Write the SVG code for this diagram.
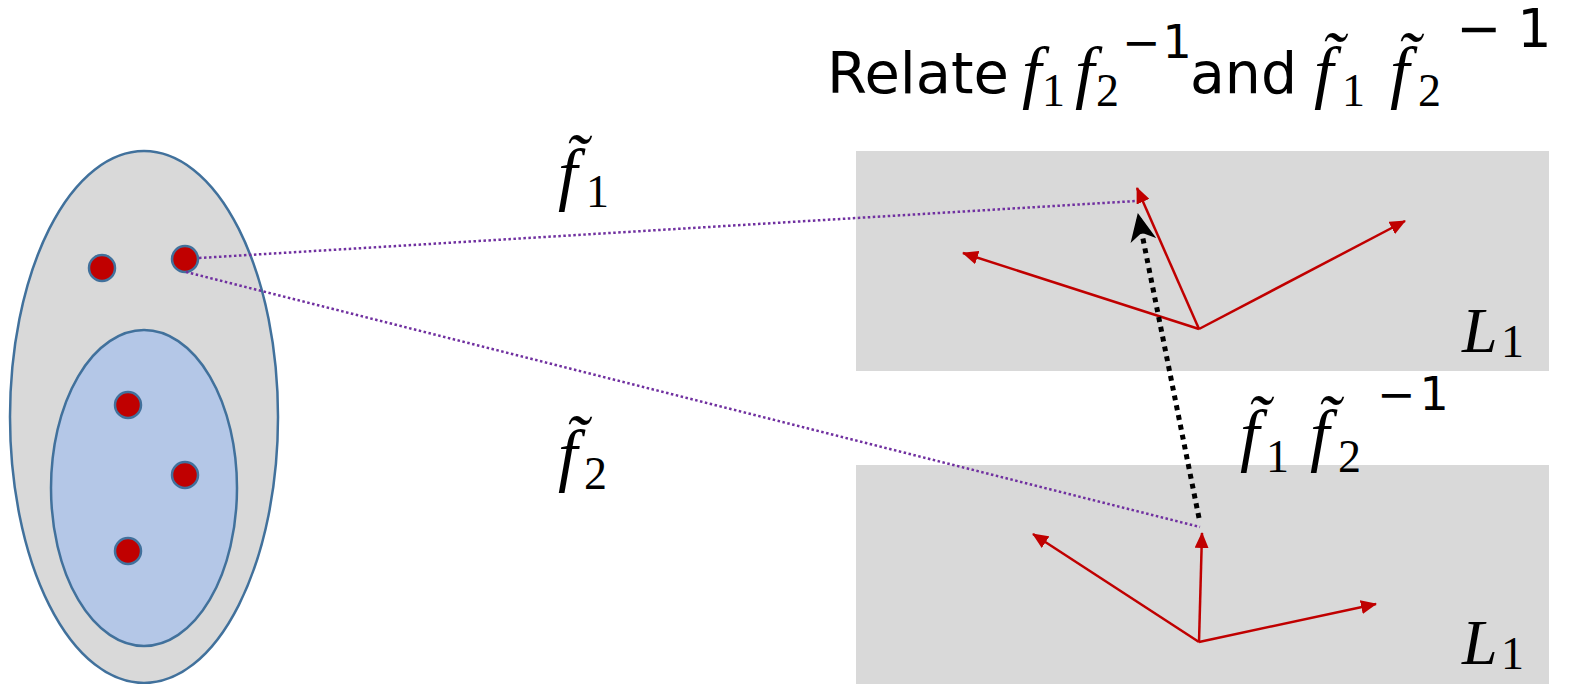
<svg xmlns="http://www.w3.org/2000/svg" width="1577" height="684" viewBox="0 0 1577 684">
<style>
.mi{font-family:"Liberation Serif",serif;font-style:italic;font-size:70px;fill:#000}
.ml{font-family:"Liberation Serif",serif;font-style:italic;font-size:64px;fill:#000}
.sub{font-family:"Liberation Serif",serif;font-size:46px;fill:#000}
.sup{font-family:"DejaVu Sans",sans-serif;font-size:46px;fill:#000}
.txt{font-family:"DejaVu Sans",sans-serif;font-size:57px;fill:#000}
.plane{fill:#D9D9D9}
.vec{stroke:#C00000;stroke-width:2.5;fill:none;marker-end:url(#redhead)}
.map{stroke:#7030A0;stroke-width:2.5;stroke-dasharray:2.5 2.5;fill:none}
.dot{fill:#C00000;stroke:#41719C;stroke-width:2.5}
.ell{stroke:#41719C;stroke-width:2.5}
</style>
<defs>
<marker id="redhead" markerUnits="userSpaceOnUse" viewBox="0 0 16 14" markerWidth="16" markerHeight="14" refX="15" refY="7" orient="auto">
<path d="M0,0 L16,7 L0,14 z" fill="#C00000"/>
</marker>
<marker id="blackhead" markerUnits="userSpaceOnUse" viewBox="0 0 28 26" markerWidth="28" markerHeight="26" refX="27" refY="13" orient="auto">
<path d="M28,13 L0,0 L8,13 L0,26 z" fill="#000"/>
</marker>
</defs>

<g id="set">
<ellipse class="ell" cx="144" cy="417" rx="134" ry="266" fill="#D9D9D9"/>
<ellipse class="ell" cx="144" cy="488" rx="93" ry="158" fill="#B4C7E7"/>
<circle class="dot" cx="102" cy="268" r="13"/>
<circle class="dot" cx="185" cy="259" r="13"/>
<circle class="dot" cx="128" cy="405" r="13"/>
<circle class="dot" cx="185" cy="475" r="13"/>
<circle class="dot" cx="128" cy="551" r="13"/>
</g>

<g id="plane-top">
<rect class="plane" x="856" y="151" width="693" height="220"/>
<line class="vec" x1="1199" y1="329" x2="1137" y2="188"/>
<line class="vec" x1="1199" y1="329" x2="1405" y2="221"/>
<line class="vec" x1="1199" y1="329" x2="963" y2="253"/>
<text class="ml" x="1462" y="352">L</text><text class="sub" x="1501" y="357">1</text>
</g>

<g id="plane-bottom">
<rect class="plane" x="856" y="465" width="693" height="219"/>
<line class="vec" x1="1199" y1="642" x2="1202" y2="533"/>
<line class="vec" x1="1199" y1="642" x2="1376" y2="604"/>
<line class="vec" x1="1199" y1="642" x2="1033" y2="534"/>
<text class="ml" x="1462" y="664">L</text><text class="sub" x="1501" y="669">1</text>
</g>

<g id="connectors">
<line class="map" x1="199" y1="258" x2="1136" y2="201"/>
<line class="map" x1="186" y1="272" x2="1200" y2="527"/>
<line x1="1199" y1="518" x2="1138" y2="214" stroke="#000" stroke-width="5" stroke-dasharray="5 5" marker-end="url(#blackhead)"/>
</g>

<g id="label-f1">
<text class="mi" x="558" y="197">f̃</text><text class="sub" x="586" y="207">1</text>
</g>
<g id="label-f2">
<text class="mi" x="558" y="478">f̃</text><text class="sub" x="584" y="489">2</text>
</g>
<g id="label-composite">
<text class="mi" x="1240" y="458">f̃</text><text class="sub" x="1266" y="472">1</text>
<text class="mi" x="1310" y="458">f̃</text><text class="sub" x="1338" y="472">2</text>
<text class="sup" x="1377" y="410">−<tspan dx="4">1</tspan></text>
</g>

<g id="title">
<text class="txt" x="827" y="93" textLength="182" lengthAdjust="spacingAndGlyphs">Relate</text>
<text class="mi" x="1022" y="95">f</text><text class="sub" x="1042" y="106">1</text>
<text class="mi" x="1075" y="95">f</text><text class="sub" x="1096" y="106">2</text>
<text class="sup" x="1122" y="58">−<tspan dx="2">1</tspan></text>
<text class="txt" x="1190" y="93" textLength="107" lengthAdjust="spacingAndGlyphs">and</text>
<text class="mi" x="1314" y="95">f̃</text><text class="sub" x="1342" y="106">1</text>
<text class="mi" x="1390" y="95">f̃</text><text class="sub" x="1418" y="106">2</text>
<text class="sup" x="1456" y="47" style="font-size:54px">−<tspan dx="16">1</tspan></text>
</g>
</svg>
